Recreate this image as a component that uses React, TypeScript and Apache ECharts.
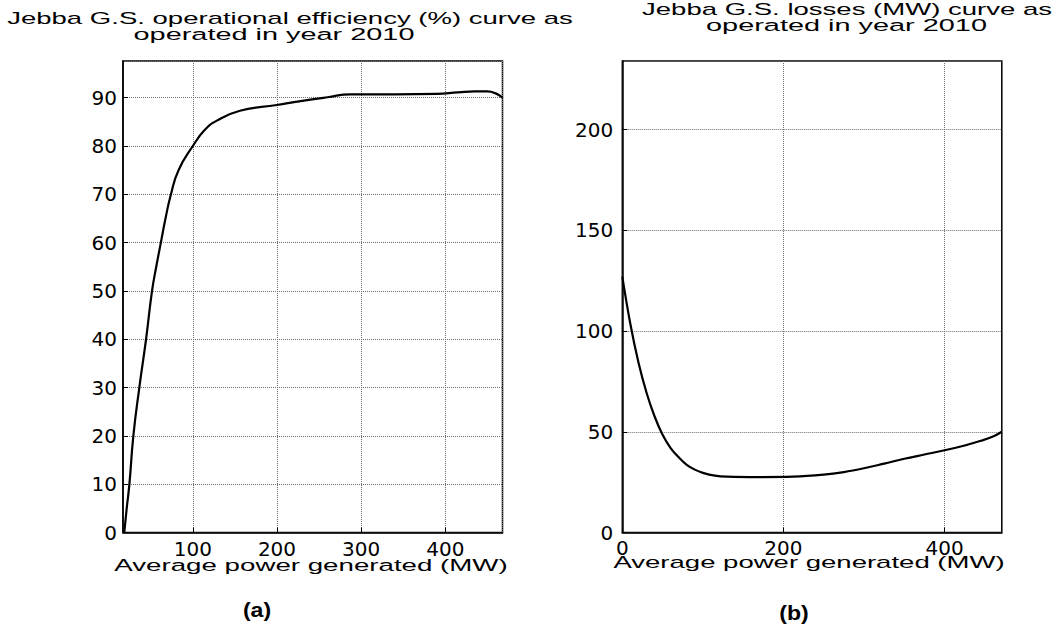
import React, { useEffect, useRef } from "react";
import * as echarts from "echarts";

// (a) operational efficiency curve
const effPowerMW = [18.5, 21.4, 24.6, 29.3, 36.4, 44.4, 51.5, 56.5, 62, 67.5, 74, 83, 100, 114, 128, 156, 200, 228, 260, 287, 340, 390, 415, 435, 450, 460, 468];
const effPercent = [0, 5, 10, 20, 30, 40, 50, 55, 60, 65, 70, 75, 80, 83.3, 85.2, 87.3, 88.5, 89.3, 90.1, 90.7, 90.7, 90.8, 91.1, 91.3, 91.3, 90.9, 90.0];

// (b) losses curve
const lossPowerMW = [0, 10, 20, 30, 40, 50, 60, 70, 80, 90, 100, 115, 130, 170, 212, 250, 275, 300, 325, 350, 375, 400, 425, 445, 460, 471];
const lossMW = [127, 103.5, 84.5, 69.5, 57.7, 48.5, 41.9, 37.3, 33.6, 31.2, 29.6, 28.2, 27.7, 27.5, 27.7, 28.7, 30.0, 31.9, 34.2, 36.6, 38.7, 40.8, 43.2, 45.5, 47.6, 50];

const titleA1 = "Jebba G.S. operational efficiency (%) curve as";
const titleA2 = "operated in year 2010";
const titleB1 = "Jebba G.S. losses (MW) curve as";
const titleB2 = "operated in year 2010";
const xName = "Average power generated (MW)";
const panelA = "(a)";
const panelB = "(b)";

export default function App() {
  const ref = useRef<HTMLDivElement>(null);
  useEffect(() => {
    const chart = echarts.init(ref.current!, null, { renderer: "svg" });
    const gridLine = { show: true, lineStyle: { color: "#6e6e6e", width: 1, type: [1, 1] } };
    const axisLine = { show: true, onZero: false, lineStyle: { color: "#000", width: 1.5 } };
    const axisTick = { show: true, inside: true, length: 5, lineStyle: { color: "#000", width: 1 } };
    const labelBase = { color: "#000", fontFamily: "DejaVu Sans", fontSize: 20 };
    const txt = (text: string, x: number, y: number, sx: number, size = 17, bold = false) => ({
      type: "text",
      x,
      y,
      scaleX: sx,
      silent: true,
      style: {
        text,
        x: 0,
        y: 0,
        fill: "#000",
        fontSize: size,
        fontFamily: "Liberation Sans, Arial, sans-serif",
        fontWeight: bold ? "bold" : "normal",
        align: "center",
        verticalAlign: "middle",
        textAlign: "center",
        textVerticalAlign: "middle",
      },
    });
    const option: any = {
      animation: false,
      backgroundColor: "#fff",
      grid: [
        { left: 123, top: 61, width: 379.5, height: 471.5, show: true, borderColor: "#000", borderWidth: 1.5, backgroundColor: "transparent" },
        { left: 622.3, top: 61, width: 379.5, height: 471.5, show: true, borderColor: "#000", borderWidth: 1.5, backgroundColor: "transparent" },
      ],
      xAxis: [
        {
          type: "value",
          gridIndex: 0,
          min: 17,
          max: 468,
          splitNumber: 5,
          axisLine,
          axisTick,
          axisLabel: { ...labelBase, margin: 6, showMinLabel: false, showMaxLabel: false },
          splitLine: gridLine,
        },
        {
          type: "value",
          gridIndex: 1,
          min: 0,
          max: 471,
          interval: 200,
          axisLine,
          axisTick,
          axisLabel: { ...labelBase, margin: 5, showMaxLabel: false },
          splitLine: gridLine,
        },
      ],
      yAxis: [
        {
          type: "value",
          gridIndex: 0,
          min: 0,
          max: 97.6,
          interval: 10,
          axisLine,
          axisTick,
          axisLabel: { ...labelBase, margin: 6, showMaxLabel: false },
          splitLine: gridLine,
        },
        {
          type: "value",
          gridIndex: 1,
          min: 0,
          max: 234,
          interval: 50,
          axisLine,
          axisTick,
          axisLabel: { ...labelBase, margin: 9, showMaxLabel: false },
          splitLine: gridLine,
        },
      ],
      series: [
        {
          type: "line",
          xAxisIndex: 0,
          yAxisIndex: 0,
          data: effPowerMW.map((x, i) => [x, effPercent[i]]),
          showSymbol: false,
          smooth: 0.5,
          lineStyle: { color: "#000", width: 2.2 },
        },
        {
          type: "line",
          xAxisIndex: 1,
          yAxisIndex: 1,
          data: lossPowerMW.map((x, i) => [x, lossMW[i]]),
          showSymbol: false,
          smooth: 0.4,
          lineStyle: { color: "#000", width: 2.2 },
        },
      ],
      graphic: [
        txt(titleA1, 290, 18.3, 1.62),
        txt(titleA2, 274, 34.5, 1.7),
        txt(titleB1, 847, 8.7, 1.62),
        txt(titleB2, 846.5, 25, 1.7),
        txt(xName, 311, 565, 1.63),
        txt(xName, 809, 562, 1.62),
        txt(panelA, 257, 610, 1.1, 21, true),
        txt(panelB, 794, 613, 1.1, 21, true),
      ],
    };
    chart.setOption(option);
    return () => chart.dispose();
  }, []);
  return (
    <div
      ref={ref}
      style={{ position: "fixed", left: 0, top: 0, width: 1058, height: 629, background: "#fff" }}
    />
  );
}
